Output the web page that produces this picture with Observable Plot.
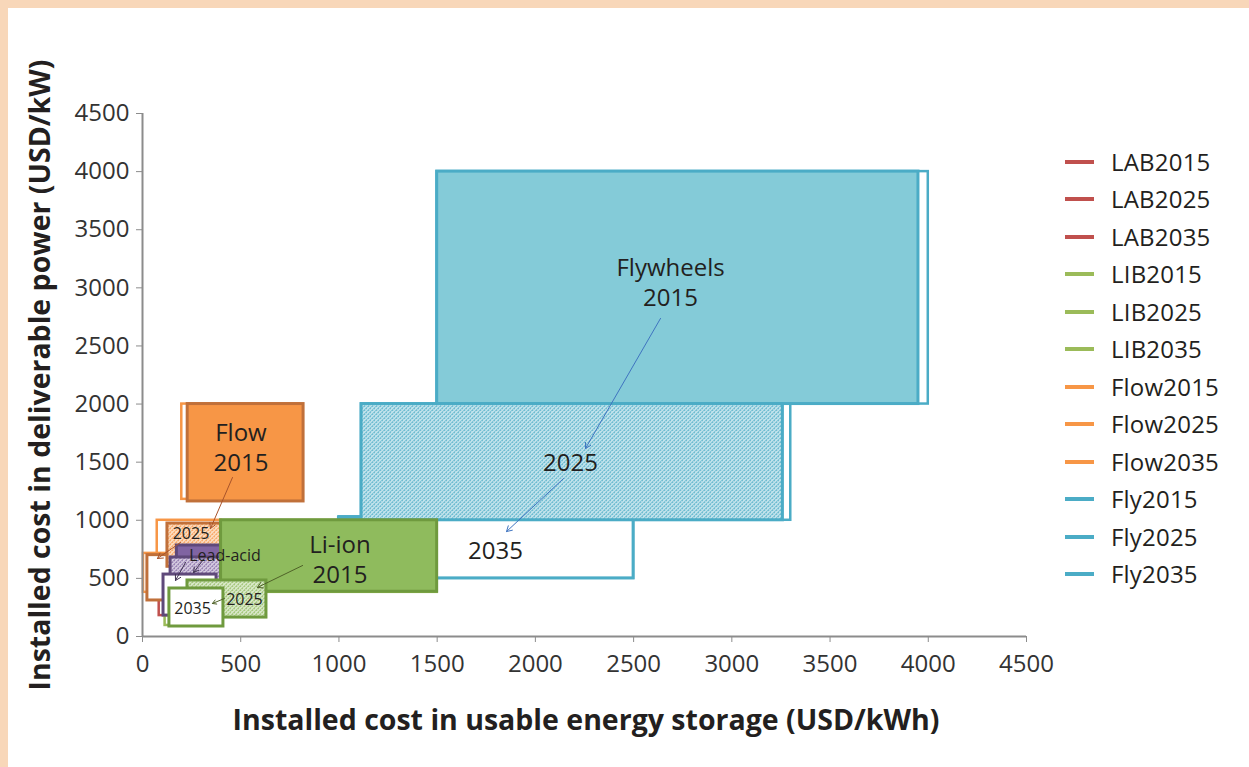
<!DOCTYPE html>
<html>
<head>
<meta charset="utf-8">
<script src="https://cdn.jsdelivr.net/npm/d3@7"></script>
<script src="https://cdn.jsdelivr.net/npm/@observablehq/plot@0.6"></script>
<style>
  body { margin: 0; background: #fff; width: 1249px; height: 767px; overflow: hidden; position: relative; font-family: "Open Sans", sans-serif; }
  #topband { position: absolute; left: 0; top: 0; width: 1249px; height: 8px; background: #f8d7b9; z-index: 5; }
  #leftband { position: absolute; left: 0; top: 0; width: 8px; height: 767px; background: #f8d7b9; z-index: 5; }
  #chart { position: absolute; left: 0; top: 0; }
  #legend { position: absolute; left: 1065px; top: 143px; }
  .item { height: 37.5px; display: flex; align-items: center; font-size: 24px; color: #231f20; line-height: 24px; letter-spacing: 0.2px; }
  .sw { width: 29px; height: 4px; margin-right: 17px; }
  .title { position: absolute; font-weight: 700; font-size: 28.5px; line-height: 28px; color: #231f20; white-space: nowrap; }
  #xtitle { left: 586px; top: 719px; transform: translate(-50%, -50%); }
  #ytitle { left: 39px; top: 375px; transform: translate(-50%, -50%) rotate(-90deg); }
</style>
</head>
<body>
<div id="topband"></div>
<div id="leftband"></div>
<div id="chart"></div>
<div id="legend"></div>
<div class="title" id="xtitle">Installed cost in usable energy storage (USD/kWh)</div>
<div class="title" id="ytitle">Installed cost in deliverable power (USD/kW)</div>
<script>
// ---------- DATA ----------
const xTicks = [0, 500, 1000, 1500, 2000, 2500, 3000, 3500, 4000, 4500];
const yTicks = [0, 500, 1000, 1500, 2000, 2500, 3000, 3500, 4000, 4500];

// line series (legend entries): rectangle outlines
const seriesNames = ["LAB2015", "LAB2025", "LAB2035", "LIB2015", "LIB2025", "LIB2035",
                     "Flow2015", "Flow2025", "Flow2035", "Fly2015", "Fly2025", "Fly2035"];
const seriesX1 = [175, 145, 85, 400, 230, 115, 200, 75, 5, 1500, 1115, 1000];
const seriesX2 = [400, 390, 350, 1500, 630, 400, 800, 400, 140, 4000, 3300, 2500];
const seriesY1 = [500, 350, 180, 380, 165, 95, 1180, 600, 380, 2000, 1000, 500];
const seriesY2 = [780, 680, 520, 1000, 480, 400, 2000, 1000, 715, 4000, 2000, 1030];

// highlighted boxes drawn over the outlines (in drawing order)
const boxNames = ["Fly2015", "Fly2035", "Fly2025", "Flow2015", "Flow2035", "Flow2025",
                  "LAB2015", "LAB2025", "LAB2035", "LIB2015", "LIB2025", "LIB2035"];
const boxX1 = [1500, 1000, 1115, 230, 25, 127, 175, 143, 107, 400, 229, 137];
const boxX2 = [3950, 2500, 3260, 820, 150, 400, 400, 400, 377, 1500, 631, 412];
const boxY1 = [2000, 500, 1000, 1162, 310, 600, 500, 400, 180, 385, 163, 86];
const boxY2 = [4000, 1020, 2000, 2000, 700, 972, 783, 680, 533, 1000, 482, 413];

// annotation labels
const labelTexts = ["Flywheels\n2015", "2025", "2035", "Flow\n2015", "Li-ion\n2015",
                    "2025", "Lead-acid", "2035", "2025"];
const labelX = [2688, 2179, 1797, 501, 1005, 247, 420, 255, 519];
const labelY = [3055, 1506, 749, 1635, 671, 892, 706, 245, 327];
const labelBig = [true, true, true, true, true, false, false, false, false];

// annotation arrows
const arrowTech = ["Fly", "Fly", "Flow", "Flow", "LAB", "LAB", "LIB", "LIB"];
const arrowX1 = [2637, 2143, 458, 193, 311, 219, 815, 417];
const arrowY1 = [2737, 1359, 1368, 808, 665, 637, 611, 327];
const arrowX2 = [2255, 1853, 346, 76, 260, 168, 585, 356];
const arrowY2 = [1618, 903, 929, 671, 551, 482, 422, 284];

// ---------- STYLES ----------
const techOf = n => n.replace(/\d+$/, "");
const lineColor = { LAB: "#c0504d", LIB: "#9bbb59", Flow: "#f79646", Fly: "#4bacc6" };
const boxStroke = { LAB: "#5f497a", LIB: "#6f9a3e", Flow: "#c0703a", Fly: "#4bacc6" };
const boxFill = {
  Fly2015: "#84cbd8", Fly2025: "url(#hFly)", Fly2035: "#ffffff",
  Flow2015: "#f79646", Flow2025: "url(#hFlow)", Flow2035: "#ffffff",
  LAB2015: "#8064a2", LAB2025: "url(#hLAB)", LAB2035: "#ffffff",
  LIB2015: "#8fbb5d", LIB2025: "url(#hLIB)", LIB2035: "#ffffff"
};
const arrowColor = { Fly: "#3f74c0", Flow: "#a8532a", LAB: "#3f3151", LIB: "#4f6228" };

// ---------- MARKS ----------
const marks = [];
seriesNames.forEach((n, i) => {
  marks.push(Plot.rect([i], {
    x1: j => seriesX1[j], x2: j => seriesX2[j], y1: j => seriesY1[j], y2: j => seriesY2[j],
    fill: "none", stroke: lineColor[techOf(n)], strokeWidth: 2.5
  }));
});
boxNames.forEach((n, i) => {
  marks.push(Plot.rect([i], {
    x1: j => boxX1[j], x2: j => boxX2[j], y1: j => boxY1[j], y2: j => boxY2[j],
    fill: boxFill[n], stroke: boxStroke[techOf(n)], strokeWidth: 3
  }));
});
marks.push(Plot.ruleX([0], { stroke: "#8c8c8c", strokeWidth: 2 }));
marks.push(Plot.ruleY([0], { stroke: "#8c8c8c", strokeWidth: 2 }));
marks.push(Plot.axisX({ ticks: xTicks, tickSize: 6, tickPadding: 12, tickFormat: d => String(d),
  stroke: "#8c8c8c", fill: "#333", fontSize: 24, label: null }));
marks.push(Plot.axisY({ ticks: yTicks, tickSize: 6, tickPadding: 7, tickFormat: d => String(d),
  stroke: "#8c8c8c", fill: "#333", fontSize: 24, label: null }));
arrowTech.forEach((t, i) => {
  marks.push(Plot.arrow([i], {
    x1: j => arrowX1[j], y1: j => arrowY1[j], x2: j => arrowX2[j], y2: j => arrowY2[j],
    stroke: arrowColor[t], strokeWidth: 1, headLength: 9
  }));
});
labelTexts.forEach((t, i) => {
  marks.push(Plot.text([i], {
    x: j => labelX[j], y: j => labelY[j], text: j => labelTexts[j],
    fontSize: labelBig[i] ? 24 : 16, fill: "#231f20", lineHeight: 1.25
  }));
});

const svg = Plot.plot({
  width: 1249, height: 767,
  marginLeft: 142, marginRight: 223, marginTop: 113, marginBottom: 131,
  x: { domain: [0, 4500] },
  y: { domain: [0, 4500] },
  style: { fontFamily: "Open Sans, sans-serif", fontSize: "24px", color: "#333", background: "transparent", overflow: "visible" },
  marks
});

// hatch patterns
const ns = "http://www.w3.org/2000/svg";
const defs = document.createElementNS(ns, "defs");
function addPattern(id, color) {
  const p = document.createElementNS(ns, "pattern");
  p.setAttribute("id", id);
  p.setAttribute("width", 4); p.setAttribute("height", 4);
  p.setAttribute("patternUnits", "userSpaceOnUse");
  const bg = document.createElementNS(ns, "rect");
  bg.setAttribute("width", 4); bg.setAttribute("height", 4); bg.setAttribute("fill", "#ffffff");
  p.appendChild(bg);
  [[0, 1.5], [1.5, 0], [2, 3.5], [3.5, 2]].forEach(([x, y]) => {
    const d = document.createElementNS(ns, "rect");
    d.setAttribute("x", x); d.setAttribute("y", y);
    d.setAttribute("width", 1.2); d.setAttribute("height", 1.2); d.setAttribute("fill", color);
    p.appendChild(d);
  });
  const c = document.createElementNS(ns, "rect");
  c.setAttribute("x", 0); c.setAttribute("y", 0);
  c.setAttribute("width", 4); c.setAttribute("height", 4); c.setAttribute("fill", color); c.setAttribute("fill-opacity", 0.35);
  p.appendChild(c);
  defs.appendChild(p);
}
addPattern("hFly", "#4bacc6");
addPattern("hFlow", "#f79646");
addPattern("hLAB", "#8064a2");
addPattern("hLIB", "#8fbb5d");
svg.insertBefore(defs, svg.firstChild);
document.getElementById("chart").appendChild(svg);

// legend
const legend = document.getElementById("legend");
seriesNames.forEach(n => {
  const item = document.createElement("div");
  item.className = "item";
  const sw = document.createElement("div");
  sw.className = "sw";
  sw.style.background = lineColor[techOf(n)];
  const tx = document.createElement("span");
  tx.textContent = n;
  item.appendChild(sw); item.appendChild(tx);
  legend.appendChild(item);
});
</script>
</body>
</html>
